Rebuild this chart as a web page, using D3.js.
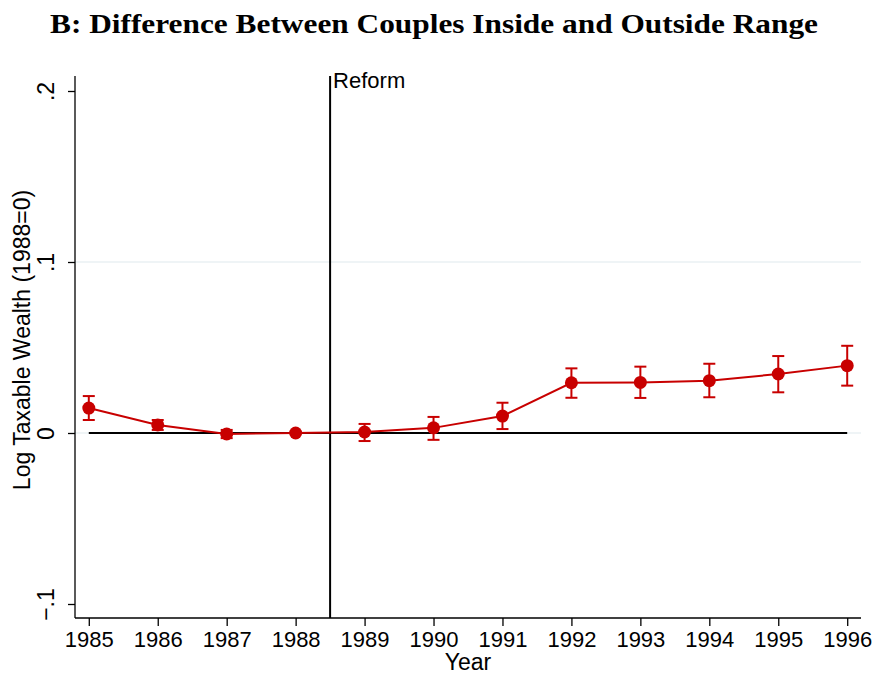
<!DOCTYPE html>
<html>
<head>
<meta charset="utf-8">
<script src="https://cdn.jsdelivr.net/npm/d3@7"></script>
<style>
  body { margin: 0; background: #fff; }
  svg { display: block; }
</style>
</head>
<body>
<svg id="chart" width="876" height="677"></svg>
<script>
// coefficients and 95% CI
var years = [1985, 1986, 1987, 1988, 1989, 1990, 1991, 1992, 1993, 1994, 1995, 1996];
var coef  = [0.0146, 0.0047, -0.0006, 0, 0.0006, 0.0030, 0.0099, 0.0294, 0.0296, 0.0306, 0.0345, 0.0394];
var ciLow = [0.0076, 0.0018, -0.0030, 0, -0.0047, -0.0040, 0.0023, 0.0206, 0.0205, 0.0209, 0.0238, 0.0277];
var ciHigh = [0.0216, 0.0076, 0.0018, 0, 0.0053, 0.0094, 0.0177, 0.0378, 0.0388, 0.0405, 0.0450, 0.0510];
var yTicks = [-0.1, 0, 0.1, 0.2];
var gridTicks = [0, 0.1];
var reformYear = 1988.5;

var red = "#c80000";
var sans = "'Liberation Sans', Arial, sans-serif";

var svg = d3.select("#chart");

var x = d3.scaleLinear().domain([1984.8, 1996.2]).range([75, 861]);
var y = d3.scaleLinear().domain([-0.1, 0.2]).range([604, 91]);
var plotTop = 76, plotBottom = 618;

// title
svg.append("text")
    .attr("x", 434).attr("y", 33)
    .attr("text-anchor", "middle")
    .attr("textLength", 768)
    .attr("lengthAdjust", "spacingAndGlyphs")
    .style("font-family", "'Liberation Serif', serif")
    .style("font-weight", "bold")
    .style("font-size", "28px")
    .text("B: Difference Between Couples Inside and Outside Range");

// grid
svg.append("g").selectAll("line")
    .data(gridTicks)
  .enter().append("line")
    .attr("x1", 75).attr("x2", 861)
    .attr("y1", function(d) { return y(d); })
    .attr("y2", function(d) { return y(d); })
    .style("stroke", "#eaf0f3")
    .style("stroke-width", 1.5);

// y axis
var yAxis = d3.axisLeft(y)
    .tickValues(yTicks)
    .tickSize(7)
    .tickFormat(function(d) { return d === 0 ? "0" : d3.format(".1f")(d).replace("0.", "."); });

var gy = svg.append("g")
    .attr("transform", "translate(75,0)")
    .call(yAxis);
gy.select(".domain").attr("d", "M0," + plotTop + "V" + plotBottom).style("stroke-width", 1.3);
gy.selectAll(".tick line").style("stroke-width", 1.3);
gy.selectAll(".tick text")
    .attr("x", null).attr("dy", null)
    .attr("transform", "translate(-21,0) rotate(-90)")
    .attr("text-anchor", "middle")
    .style("font-family", sans)
    .style("font-size", "23px")
    .style("fill", "#000");

// x axis
var xAxis = d3.axisBottom(x)
    .tickValues(years)
    .tickSize(8)
    .tickFormat(d3.format("d"));

var gx = svg.append("g")
    .attr("transform", "translate(0," + plotBottom + ")")
    .call(xAxis);
gx.select(".domain").attr("d", "M75,0H861").style("stroke-width", 1.3);
gx.selectAll(".tick line").style("stroke-width", 1.3);
gx.selectAll(".tick text")
    .attr("y", 13)
    .style("font-family", sans)
    .style("font-size", "22px")
    .style("fill", "#000");

// axis titles
svg.append("text")
    .attr("transform", "translate(30,340) rotate(-90)")
    .attr("text-anchor", "middle")
    .style("font-family", sans)
    .style("font-size", "23px")
    .text("Log Taxable Wealth (1988=0)");

svg.append("text")
    .attr("x", 468).attr("y", 670)
    .attr("text-anchor", "middle")
    .style("font-family", sans)
    .style("font-size", "23px")
    .text("Year");

// zero line
svg.append("line")
    .attr("x1", x(years[0])).attr("x2", x(years[years.length - 1]))
    .attr("y1", y(0)).attr("y2", y(0))
    .style("stroke", "#000")
    .style("stroke-width", 2);

// reform line
svg.append("line")
    .attr("x1", x(reformYear)).attr("x2", x(reformYear))
    .attr("y1", plotTop).attr("y2", plotBottom)
    .style("stroke", "#000")
    .style("stroke-width", 2);

svg.append("text")
    .attr("x", x(reformYear) + 3).attr("y", 88)
    .style("font-family", sans)
    .style("font-size", "22px")
    .text("Reform");

var data = years.map(function(yr, i) {
    return { year: yr, coef: coef[i], lo: ciLow[i], hi: ciHigh[i] };
});

// error bars
var bars = svg.append("g").selectAll("g")
    .data(data.filter(function(d) { return d.hi !== d.lo; }))
  .enter().append("g")
    .style("stroke", red)
    .style("stroke-width", 2);

bars.append("line")
    .attr("x1", function(d) { return x(d.year); })
    .attr("x2", function(d) { return x(d.year); })
    .attr("y1", function(d) { return y(d.lo); })
    .attr("y2", function(d) { return y(d.hi); });

bars.append("line")
    .attr("x1", function(d) { return x(d.year) - 6; })
    .attr("x2", function(d) { return x(d.year) + 6; })
    .attr("y1", function(d) { return y(d.lo); })
    .attr("y2", function(d) { return y(d.lo); });

bars.append("line")
    .attr("x1", function(d) { return x(d.year) - 6; })
    .attr("x2", function(d) { return x(d.year) + 6; })
    .attr("y1", function(d) { return y(d.hi); })
    .attr("y2", function(d) { return y(d.hi); });

// connecting line
var line = d3.line()
    .x(function(d) { return x(d.year); })
    .y(function(d) { return y(d.coef); });

svg.append("path")
    .datum(data)
    .attr("d", line)
    .style("fill", "none")
    .style("stroke", red)
    .style("stroke-width", 2);

// markers
svg.append("g").selectAll("circle")
    .data(data)
  .enter().append("circle")
    .attr("cx", function(d) { return x(d.year); })
    .attr("cy", function(d) { return y(d.coef); })
    .attr("r", 6.5)
    .style("fill", red);
</script>
</body>
</html>
